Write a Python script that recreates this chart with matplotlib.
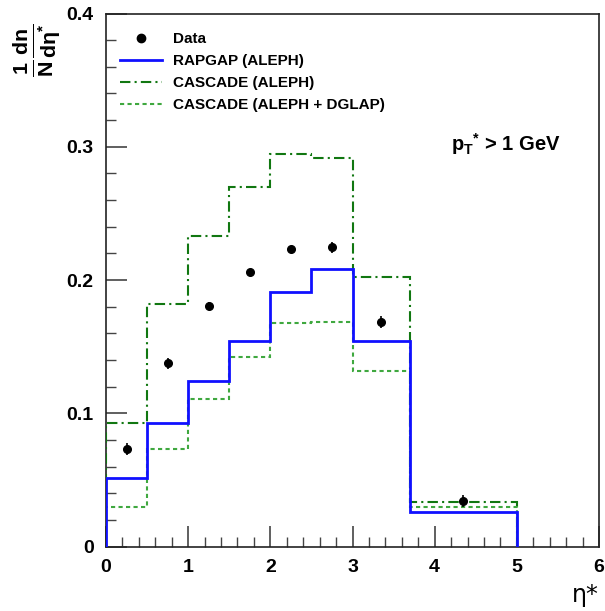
import matplotlib
matplotlib.use("Agg")
import matplotlib.pyplot as plt
from matplotlib.ticker import MultipleLocator
from matplotlib.lines import Line2D
import numpy as np

plt.rcParams['font.family'] = ['Liberation Sans', 'DejaVu Sans']
plt.rcParams['font.weight'] = 'bold'
plt.rcParams['mathtext.fontset'] = 'custom'
plt.rcParams['mathtext.rm'] = 'Liberation Sans:bold'
plt.rcParams['mathtext.bf'] = 'Liberation Sans:bold'
plt.rcParams['mathtext.it'] = 'Liberation Sans:bold'

# bin edges in eta*
edges = [0.0, 0.5, 1.0, 1.5, 2.0, 2.5, 3.0, 3.7, 5.0]
# data points
data_x = [0.25, 0.75, 1.25, 1.75, 2.25, 2.75, 3.35, 4.35]
data_y = [0.073, 0.1376, 0.1805, 0.2058, 0.2236, 0.2246, 0.1686, 0.0345]
data_err = [0.0045, 0.004, 0.003, 0.002, 0.002, 0.004, 0.0045, 0.0045]
# model predictions
rapgap = [0.0513, 0.0928, 0.1245, 0.1545, 0.1908, 0.2086, 0.154, 0.026]
cascade = [0.0926, 0.1818, 0.2333, 0.2698, 0.2943, 0.2916, 0.2026, 0.0338]
cascade_dglap = [0.030, 0.0735, 0.1108, 0.1423, 0.1676, 0.1683, 0.1316, 0.030]

labels = ["Data", "RAPGAP (ALEPH)", "CASCADE (ALEPH)", "CASCADE (ALEPH + DGLAP)"]

fig = plt.figure(figsize=(6.05, 6.11), dpi=100)
ax = fig.add_axes([106/605, 64.3/611, (599-106)/605, (546.7-13.5)/611])

ax.errorbar(data_x, data_y, yerr=data_err, fmt='o', color='black',
            markersize=5.5, elinewidth=1.2, capsize=0, zorder=5)
ax.stairs(rapgap, edges, color='#1010ff', linewidth=2.0, zorder=4)
ax.stairs(cascade, edges, color='#117711', linewidth=1.5,
          linestyle=(0, (5, 2, 1, 2)), zorder=3)
ax.stairs(cascade_dglap, edges, color='#3fa83f', linewidth=1.5,
          linestyle=(0, (2, 1.6)), zorder=3)
h_data = Line2D([], [], marker='o', color='black', linestyle='none', markersize=6)
h_rap_l = Line2D([], [], color='#1010ff', linewidth=2.0)
h_cas_l = Line2D([], [], color='#117711', linewidth=1.5, linestyle=(0, (5, 2, 1, 2)))
h_dgl_l = Line2D([], [], color='#3fa83f', linewidth=1.5, linestyle=(0, (2, 1.6)))

ax.set_xlim(0, 6)
ax.set_ylim(0, 0.4)
ax.xaxis.set_major_locator(MultipleLocator(1))
ax.xaxis.set_minor_locator(MultipleLocator(0.2))
ax.yaxis.set_major_locator(MultipleLocator(0.1))
ax.yaxis.set_minor_locator(MultipleLocator(0.02))
ax.tick_params(which='both', direction='in', top=False, right=False, color='#444444')
ax.tick_params(which='major', length=15, width=1.2, labelsize=14)
ax.tick_params(axis='y', which='major', pad=9)
ax.tick_params(axis='x', which='major', pad=9)
ax.tick_params(which='minor', length=7, width=1.0)
ax.set_yticks([0, 0.1, 0.2, 0.3, 0.4])
ax.set_yticklabels(['0', '0.1', '0.2', '0.3', '0.4'])
for lab in ax.get_xticklabels() + ax.get_yticklabels():
    lab.set_fontweight('bold')
for sp in ax.spines.values():
    sp.set_linewidth(1.2)
    sp.set_color('#222222')

leg = ax.legend([h_data, h_rap_l, h_cas_l, h_dgl_l], labels, loc='upper left',
                bbox_to_anchor=(0.017, 0.976), frameon=False, fontsize=11,
                handlelength=2.7, handletextpad=0.75, labelspacing=0.52,
                borderaxespad=0)
for t in leg.get_texts():
    t.set_fontweight('bold')

ax.text(0.70, 0.743, r'$\mathbf{p_{T}{}^{*}}$ > 1 GeV', transform=ax.transAxes,
        fontsize=14.5, fontweight='bold', ha='left', va='baseline')

fig.text(36/605, 1 - 50/611, r'$\mathbf{\frac{1}{N}\frac{dn}{d\eta^{*}}}$',
         rotation=90, fontsize=22, ha='center', va='center')
fig.text(585/605, 1 - 595/611, 'η*', fontsize=17, fontweight='normal',
         family=['DejaVu Sans'], ha='center', va='center')

fig.savefig('out.png', dpi=100)
